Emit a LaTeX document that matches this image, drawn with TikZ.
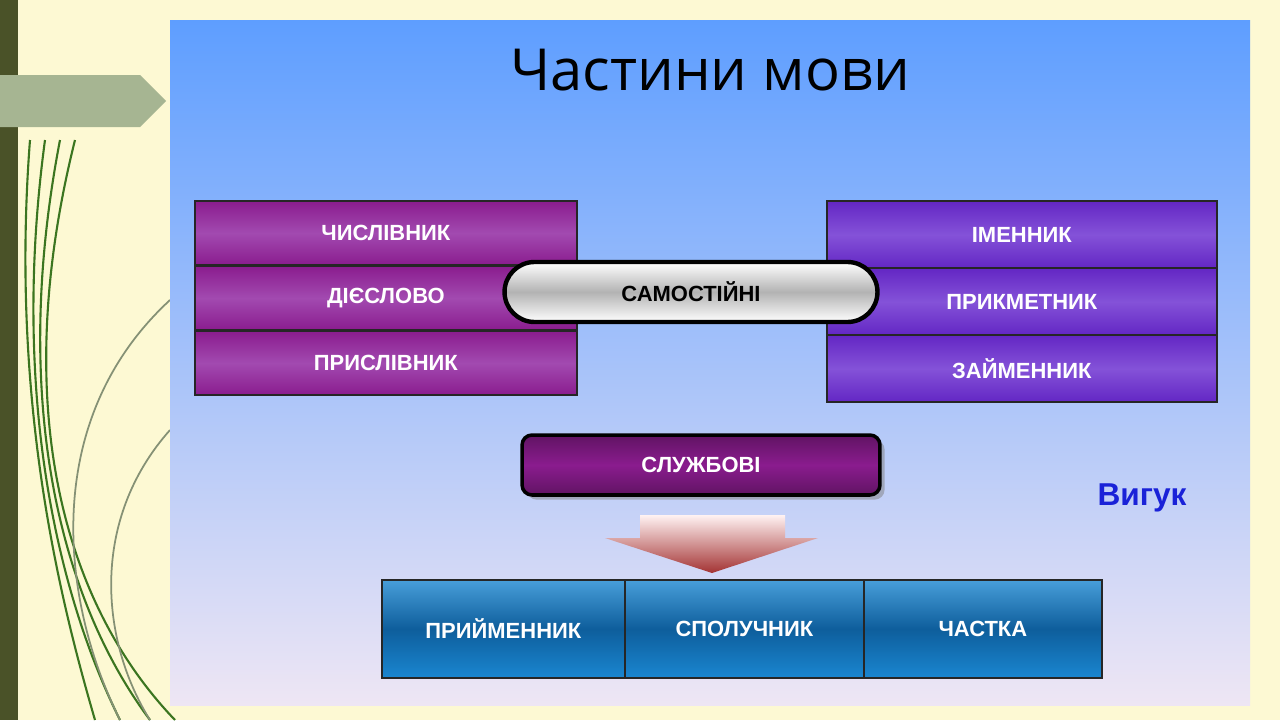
\documentclass[tikz,border=0pt]{standalone}
\usepackage{fontspec}
\setmainfont{Liberation Sans}
\newfontfamily\titlefont{Open Sans}
\usetikzlibrary{shadows}
\definecolor{cream}{HTML}{FDF9D3}
\definecolor{olivedark}{HTML}{4A5228}
\definecolor{tabgreen}{HTML}{A6B592}
\definecolor{skytop}{HTML}{5E9EFF}
\definecolor{skybottom}{HTML}{EEE6F4}
\definecolor{plum}{HTML}{8A1C8E}
\definecolor{plumlight}{HTML}{A24AB0}
\definecolor{violet}{HTML}{6326C4}
\definecolor{violetlight}{HTML}{8452D8}
\definecolor{tealblue}{HTML}{1A86D0}
\definecolor{tealdark}{HTML}{0E5E9C}
\definecolor{vigukblue}{HTML}{1A22D8}
\begin{document}
\begin{tikzpicture}[x=0.02cm,y=-0.02cm,
    word/.style={text=white, font=\fontsize{12.5}{15}\selectfont\bfseries},
    leftcell/.style={word, draw=black!85, line width=1pt, top color=plum, bottom color=plum, middle color=plumlight,
                     minimum width=7.64cm, minimum height=1.29cm, anchor=north west},
    rightcell/.style={word, draw=black!85, line width=1pt, top color=violet, bottom color=violet, middle color=violetlight,
                      minimum width=7.8cm, minimum height=1.35cm, anchor=north west},
    bottomcell/.style={word, draw=black!85, line width=1pt, top color=tealblue!80!white, bottom color=tealblue, middle color=tealdark,
                       minimum height=1.96cm, anchor=north west}
]
    \useasboundingbox (0,0) rectangle (1280,720);
    \fill[cream] (0,0) rectangle (1280,720);
    % left decoration
    \fill[olivedark] (0,0) rectangle (18,720);
    \fill[tabgreen] (0,75) -- (140,75) -- (166,101) -- (140,127) -- (0,127) -- cycle;
    \foreach \a/\b in {60/150, 45/120, 30/95, 75/175}
        \draw[olivedark!80!green, line width=1.2pt] (\a,140) .. controls (10,400) and (60,600) .. (\b,720);
    \draw[tabgreen!80!black, line width=1pt] (170,300) .. controls (40,420) and (60,600) .. (120,720);
    \draw[tabgreen!80!black, line width=1pt] (170,430) .. controls (90,520) and (100,640) .. (150,720);
    % panel
    \shade[top color=skytop, bottom color=skybottom] (170,20) rectangle (1250,705);
    \node[font=\titlefont\fontsize{33}{38}\selectfont] (title) at (710,70) {Частини мови};
    % left column
    \node[leftcell] (num) at (194,200) {ЧИСЛІВНИК};
    \node[leftcell] (verb) at (194,265) {ДІЄСЛОВО};
    \node[leftcell] (adv) at (194,330) {ПРИСЛІВНИК};
    % right column
    \node[rightcell] (noun) at (826,200) {ІМЕННИК};
    \node[rightcell] (adj) at (826,267) {ПРИКМЕТНИК};
    \node[rightcell] (pron) at (826,334) {ЗАЙМЕННИК};
    % capsules
    \node[draw=black, line width=2.5pt, rounded corners=0.6cm, minimum width=7.46cm, minimum height=1.2cm,
          top color=white, bottom color=white, middle color=black!30, font=\fontsize{12.5}{15}\selectfont\bfseries] (indep) at (691,292) {САМОСТІЙНІ};
    \node[draw=black, line width=2pt, rounded corners=0.2cm, minimum width=7.16cm, minimum height=1.2cm,
          top color=plum!70!black, bottom color=plum!70!black, middle color=plum, drop shadow, word] (aux) at (701,465) {СЛУЖБОВІ};
    \node[text=vigukblue, font=\fontsize{18}{20}\selectfont\bfseries] (viguk) at (1142,498) {Вигук};
    % arrow
    \shade[top color=red!5, bottom color=red!55!black!80] (640,515) -- (785,515) -- (785,538) -- (818,538)
        -- (712,573) -- (605,538) -- (640,538) -- cycle;
    % bottom row
    \node[bottomcell, minimum width=4.86cm] (prep) at (381,579) {ПРИЙМЕННИК};
    \node[bottomcell, minimum width=4.78cm] (conj) at (624,579) {СПОЛУЧНИК};
    \node[bottomcell, minimum width=4.76cm] (part) at (863,579) {ЧАСТКА};
\end{tikzpicture}
\end{document}
